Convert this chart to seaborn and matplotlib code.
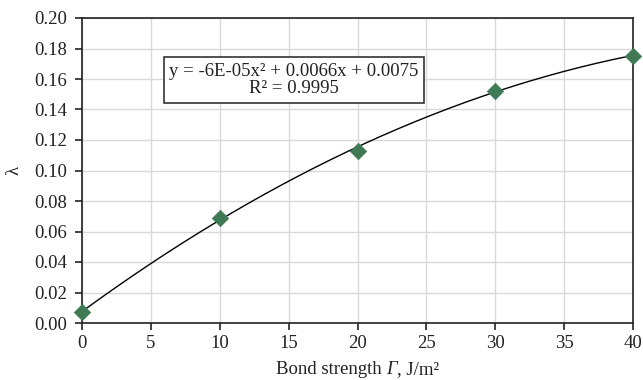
import numpy as np
import pandas as pd
import matplotlib
matplotlib.use("Agg")
import matplotlib.pyplot as plt
import seaborn as sns
from matplotlib.offsetbox import TextArea, HPacker, AnnotationBbox

# Measured points
bond_strength = [0, 10, 20, 30, 40]
lam = [0.007, 0.069, 0.113, 0.152, 0.175]

# Quadratic trendline coefficients (a*x^2 + b*x + c)
coef_a = -6e-05
coef_b = 0.0066
coef_c = 0.0075
r_squared = 0.9995

x_ticks = [0, 5, 10, 15, 20, 25, 30, 35, 40]
y_ticks = [0.00, 0.02, 0.04, 0.06, 0.08, 0.10, 0.12, 0.14, 0.16, 0.18, 0.20]

sns.set_theme(style="white")
plt.rcParams["font.family"] = ["Liberation Serif", "DejaVu Serif"]

FS = 13.5
INK = "#222222"

fig = plt.figure(figsize=(6.43, 3.80), dpi=100)
ax = fig.add_axes([82 / 643, 1 - 323 / 380, (633 - 82) / 643, (323 - 18) / 380])

df = pd.DataFrame({"x": bond_strength, "y": lam})

xs = np.linspace(0, 40, 200)
trend = pd.DataFrame({"x": xs, "y": coef_a * xs**2 + coef_b * xs + coef_c})
sns.lineplot(data=trend, x="x", y="y", ax=ax, color="black", linewidth=1.0, zorder=3)

sns.scatterplot(data=df, x="x", y="y", ax=ax, marker="D", s=70, color="#3f7a54",
                edgecolor="#3f7a54", linewidth=0.5, zorder=4, clip_on=False)

ax.set_xlim(0, 40)
ax.set_ylim(0, 0.20)
ax.set_xticks(x_ticks)
ax.set_yticks(y_ticks)
ax.set_yticklabels([f"{v:.2f}" for v in y_ticks])
ax.grid(True, color="#d9d9d9", linewidth=1.0)
ax.set_axisbelow(True)

for s in ax.spines.values():
    s.set_color(INK)
    s.set_linewidth(1.2)

ax.tick_params(axis="both", which="major", direction="out", length=5, width=1.2,
               color=INK, labelsize=FS, labelcolor=INK)
ax.tick_params(axis="y", pad=6)
ax.tick_params(axis="x", pad=4)
ax.tick_params(bottom=True, left=True)

ax.set_xlabel("")
ax.set_ylabel("λ", fontsize=FS, color=INK, labelpad=8)

# x-axis title with an italic Γ
parts = [
    TextArea("Bond strength ", textprops=dict(fontsize=FS, color=INK)),
    TextArea("Γ", textprops=dict(fontsize=FS, color=INK, fontstyle="italic")),
    TextArea(", J/m²", textprops=dict(fontsize=FS, color=INK)),
]
label_box = HPacker(children=parts, align="baseline", pad=0, sep=0)
fig.add_artist(AnnotationBbox(label_box, ((82 + 633) / 2 / 643, 1 - 370 / 380),
                              xycoords="figure fraction", frameon=False,
                              box_alignment=(0.5, 0.5), pad=0))

ax.text(0.385, 0.797,
        f"y = -6E-05x² + 0.0066x + 0.0075\nR² = {r_squared}",
        transform=ax.transAxes, ha="center", va="center", fontsize=FS,
        color=INK, multialignment="center", linespacing=1.0,
        bbox=dict(boxstyle="square,pad=0.3", facecolor="white", edgecolor="#333333", linewidth=1.2))

fig.savefig("out.png", dpi=100)
